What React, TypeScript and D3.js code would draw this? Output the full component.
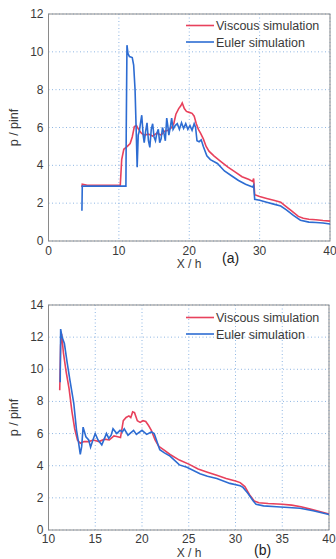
import * as d3 from 'd3';

type Pt = [number, number];

const RED = '#e8415c';
const BLUE = '#2d6cd2';

// panel (a)
const xTicksA = [0, 10, 20, 30, 40];
const yTicksA = [0, 2, 4, 6, 8, 10, 12];
const viscousA: Pt[] = [
    [4.75, 2.85], [4.8, 3.0], [5.5, 2.95], [10.2, 2.95], [10.4, 4.3], [10.7, 4.85], [11.2, 5.0],
    [11.6, 5.15], [11.9, 5.5], [12.2, 6.05], [12.5, 6.1], [12.8, 5.9], [13.2, 5.7], [13.6, 5.6],
    [14.2, 5.65], [14.8, 5.55], [15.4, 5.7], [16.0, 5.6], [16.5, 5.8], [17.0, 5.85], [17.5, 6.0],
    [17.8, 6.2], [18.1, 6.7], [18.5, 7.0], [18.8, 7.15], [19.0, 7.3], [19.3, 7.0], [19.6, 6.85],
    [20.0, 6.8], [20.4, 6.75], [20.7, 6.6], [21.0, 6.2], [21.3, 5.9], [21.6, 5.7], [22.0, 5.4],
    [22.4, 5.0], [22.8, 4.75], [23.5, 4.5], [24.5, 4.2], [25.5, 3.9], [26.5, 3.65], [27.5, 3.4],
    [28.5, 3.25], [29.0, 3.15], [29.15, 3.3], [29.3, 2.45], [30, 2.35], [31, 2.25], [32, 2.15],
    [33, 2.05], [33.5, 1.9], [34.5, 1.6], [35.5, 1.3], [36.2, 1.2], [37, 1.15], [38, 1.12],
    [39, 1.08], [40, 1.05],
];
const eulerA: Pt[] = [
    [4.75, 1.6], [4.8, 2.9], [5.5, 2.9], [11.0, 2.9], [11.05, 6], [11.15, 10.35], [11.3, 9.9],
    [11.5, 9.75], [11.9, 9.7], [12.1, 9.3], [12.3, 8.0], [12.45, 6.0], [12.6, 3.9], [12.75, 5.6],
    [12.9, 5.8], [13.1, 6.3], [13.25, 6.65], [13.45, 5.6], [13.6, 5.2], [13.8, 5.8], [14.0, 6.25],
    [14.2, 5.3], [14.4, 4.95], [14.6, 5.9], [14.8, 6.2], [15.0, 5.5], [15.2, 5.3], [15.4, 5.7],
    [15.6, 5.9], [15.8, 5.2], [16.0, 5.4], [16.2, 6.0], [16.4, 5.7], [16.6, 5.3], [16.8, 6.5],
    [16.95, 6.1], [17.1, 5.6], [17.3, 6.0], [17.5, 6.5], [17.7, 5.9], [18.0, 6.1], [18.3, 6.2],
    [18.6, 5.9], [18.9, 6.25], [19.2, 5.95], [19.5, 6.2], [19.8, 5.9], [20.1, 6.1], [20.4, 5.85],
    [20.7, 6.2], [20.9, 6.0], [21.1, 5.3], [21.4, 5.25], [21.7, 5.35], [22.0, 5.0], [22.5, 4.5],
    [23.0, 4.3], [24.0, 4.1], [25.0, 3.7], [26.0, 3.45], [27.0, 3.2], [28.0, 3.0], [29.0, 2.85],
    [29.15, 2.95], [29.3, 2.2], [30.0, 2.15], [31.0, 2.05], [32.0, 1.95], [33.0, 1.85],
    [33.8, 1.65], [34.8, 1.35], [35.8, 1.1], [37, 1.0], [38, 0.98], [39, 0.95], [40, 0.9],
];

// panel (b)
const xTicksB = [10, 15, 20, 25, 30, 35, 40];
const yTicksB = [0, 2, 4, 6, 8, 10, 12, 14];
const viscousB: Pt[] = [
    [11.2, 8.7], [11.3, 11.5], [11.4, 12.2], [11.6, 11.0], [11.9, 9.8], [12.2, 8.8], [12.5, 7.4],
    [12.8, 6.3], [13.1, 5.6], [13.4, 5.4], [13.8, 5.5], [14.3, 5.5], [14.8, 5.6], [15.4, 5.5],
    [16.0, 5.65], [16.5, 5.6], [17.0, 5.85], [17.4, 5.8], [17.7, 5.75], [18.0, 6.8], [18.3, 7.0],
    [18.6, 7.1], [18.8, 7.0], [19.0, 7.35], [19.2, 7.3], [19.5, 6.8], [19.8, 6.7], [20.1, 6.8],
    [20.4, 6.75], [20.7, 6.5], [21.0, 6.2], [21.4, 5.6], [21.8, 5.2], [22.3, 5.0], [23.0, 4.7],
    [24.0, 4.35], [25.0, 4.1], [26.0, 3.8], [27.0, 3.6], [28.0, 3.4], [29.0, 3.2], [30.0, 3.05],
    [30.5, 2.95], [31.0, 2.7], [31.5, 2.2], [32.0, 1.8], [32.5, 1.7], [33.5, 1.65], [35, 1.6],
    [36, 1.55], [37, 1.45], [38, 1.3], [39, 1.15], [40, 1.0],
];
const eulerB: Pt[] = [
    [11.25, 9.2], [11.3, 12.5], [11.45, 12.0], [11.7, 11.6], [12.0, 10.4], [12.3, 9.3],
    [12.7, 7.9], [13.0, 6.2], [13.2, 5.5], [13.4, 4.7], [13.55, 5.2], [13.7, 6.4], [13.85, 6.1],
    [14.0, 5.8], [14.3, 5.6], [14.5, 5.15], [14.75, 5.6], [15.0, 6.0], [15.3, 5.6], [15.7, 5.3],
    [16.2, 6.0], [16.45, 5.7], [16.7, 5.9], [16.9, 6.3], [17.3, 6.0], [17.65, 6.2], [17.9, 6.1],
    [18.1, 6.3], [18.5, 5.9], [19.1, 6.2], [19.4, 5.95], [20.0, 6.2], [20.5, 5.95], [21.0, 6.1],
    [21.3, 6.0], [21.6, 5.5], [21.9, 5.0], [22.4, 4.8], [23.0, 4.6], [24.0, 4.05], [24.8, 3.9],
    [26.2, 3.5], [27.0, 3.35], [28.0, 3.2], [29.4, 2.9], [30.5, 2.75], [30.8, 2.65], [31.3, 2.3],
    [31.9, 1.8], [32.2, 1.6], [33, 1.5], [34.4, 1.45], [36.9, 1.35], [38.3, 1.2], [40, 0.97],
];

const seriesNames = ['Viscous simulation', 'Euler simulation'];
const FONT = 'Liberation Sans, Arial, sans-serif';
const TEXT = '#3a3a3a';

interface PanelProps {
    left: number;
    right: number;
    top: number;
    bottom: number;
    xDomain: [number, number];
    yDomain: [number, number];
    xTicks: number[];
    yTicks: number[];
    viscous: Pt[];
    euler: Pt[];
    tag: string;
    tickY: number;
    labelY: number;
    tagX: number;
    tagY: number;
    legendY: number;
}

function Panel(p: PanelProps) {
    const x = d3.scaleLinear().domain(p.xDomain).range([p.left, p.right]);
    const y = d3.scaleLinear().domain(p.yDomain).range([p.bottom, p.top]);
    const line = d3
        .line<Pt>()
        .x((d) => x(d[0]))
        .y((d) => y(d[1]));
    const midY = (p.top + p.bottom) / 2;

    return (
        <g fontFamily={FONT}>
            {p.xTicks.map((t) => (
                <line
                    key={'gx' + t}
                    x1={x(t)}
                    x2={x(t)}
                    y1={p.top}
                    y2={p.bottom}
                    stroke="#8fb6e3"
                    strokeWidth={1}
                    strokeDasharray="1,2.5"
                />
            ))}
            {p.yTicks.map((t) => (
                <line
                    key={'gy' + t}
                    x1={p.left}
                    x2={p.right}
                    y1={y(t)}
                    y2={y(t)}
                    stroke="#8fb6e3"
                    strokeWidth={1}
                    strokeDasharray="1,2.5"
                />
            ))}
            <rect
                x={p.left}
                y={p.top}
                width={p.right - p.left}
                height={p.bottom - p.top}
                fill="none"
                stroke="#8a8a8a"
                strokeWidth={1}
            />
            {p.xTicks.map((t) => (
                <text
                    key={'tx' + t}
                    x={x(t)}
                    y={p.tickY}
                    textAnchor="middle"
                    fontSize={12}
                    fill={TEXT}
                >
                    {t}
                </text>
            ))}
            {p.yTicks.map((t) => (
                <text
                    key={'ty' + t}
                    x={p.left - 5}
                    y={y(t) + 4}
                    textAnchor="end"
                    fontSize={12}
                    fill={TEXT}
                >
                    {t}
                </text>
            ))}
            <path d={line(p.viscous) || ''} fill="none" stroke={RED} strokeWidth={1.6} />
            <path d={line(p.euler) || ''} fill="none" stroke={BLUE} strokeWidth={1.6} />
            <text
                transform={`translate(18, ${midY}) rotate(-90)`}
                textAnchor="middle"
                fontSize={12.5}
                fill={TEXT}
            >
                p / pinf
            </text>
            <text x={189} y={p.labelY} textAnchor="middle" fontSize={12} fill={TEXT}>
                X / h
            </text>
            <text x={p.tagX} y={p.tagY} fontSize={14} fill="#222">
                {p.tag}
            </text>
            {seriesNames.map((name, i) => (
                <g key={name}>
                    <line
                        x1={186}
                        x2={214}
                        y1={p.legendY + i * 16.5}
                        y2={p.legendY + i * 16.5}
                        stroke={i === 0 ? RED : BLUE}
                        strokeWidth={1.6}
                    />
                    <text x={216} y={p.legendY + i * 16.5 + 4.5} fontSize={12.5} fill={TEXT}>
                        {name}
                    </text>
                </g>
            ))}
        </g>
    );
}

export default function App() {
    return (
        <svg
            width={336}
            height={559}
            viewBox="0 0 336 559"
            style={{ position: 'absolute', left: 0, top: 0, background: '#fff' }}
        >
            <Panel
                left={48.5}
                right={330}
                top={14}
                bottom={241}
                xDomain={[0, 40]}
                yDomain={[0, 12]}
                xTicks={xTicksA}
                yTicks={yTicksA}
                viscous={viscousA}
                euler={eulerA}
                tag="(a)"
                tickY={254.5}
                labelY={268}
                tagX={222}
                tagY={263}
                legendY={25.5}
            />
            <Panel
                left={48.5}
                right={329}
                top={305}
                bottom={530}
                xDomain={[10, 40]}
                yDomain={[0, 14]}
                xTicks={xTicksB}
                yTicks={yTicksB}
                viscous={viscousB}
                euler={eulerB}
                tag="(b)"
                tickY={543}
                labelY={557}
                tagX={254}
                tagY={555}
                legendY={317.5}
            />
        </svg>
    );
}
